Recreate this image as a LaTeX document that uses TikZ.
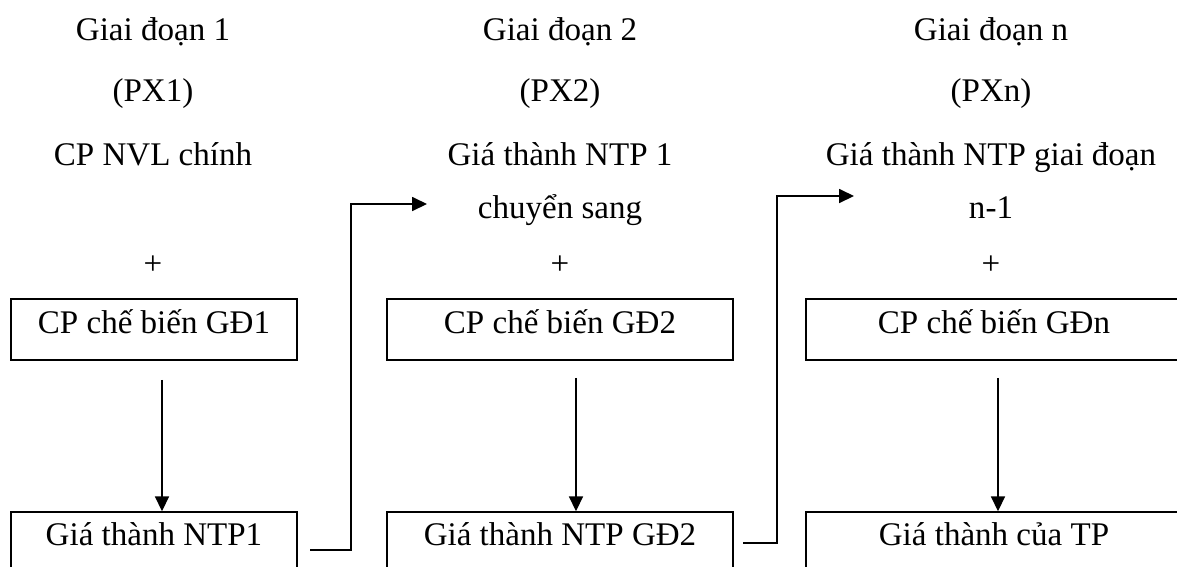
\documentclass[tikz,border=0pt]{standalone}
\usepackage{fontspec}
\setmainfont{Liberation Serif}
\usetikzlibrary{arrows.meta}
\begin{document}
\begin{tikzpicture}[x=0.02cm,y=-0.02cm,line width=0.8pt,
  every node/.style={font=\fontsize{18.8}{22}\selectfont,inner sep=0pt,anchor=base},
  box/.style={draw,text height=19.3pt,text depth=15.4pt},
  openbox/.style={draw,text height=18.8pt,text depth=40pt},
  arr/.style={-{Triangle[length=8.5pt,width=8pt]}}]
\clip (0,0) rectangle (1177,566);
% column 1
\node (gd1) at (153,40) {Giai đoạn 1};
\node (px1) at (153,101) {(PX1)};
\node (nvl) at (153,165) {CP NVL chính};
\node (plus1) at (153,274) {+};
\node[box,minimum width=5.72cm] (cb1) at (154,333) {CP chế biến GĐ1};
\node[openbox,minimum width=5.72cm] (ntp1) at (154,545) {Giá thành NTP1};
% column 2
\node (gd2) at (560,40) {Giai đoạn 2};
\node (px2) at (560,101) {(PX2)};
\node (gt2) at (560,165) {Giá thành NTP 1};
\node (cs2) at (560,218) {chuyển sang};
\node (plus2) at (560,274) {+};
\node[box,minimum width=6.92cm] (cb2) at (560,333) {CP chế biến GĐ2};
\node[openbox,minimum width=6.92cm] (ntp2) at (560,545) {Giá thành NTP GĐ2};
% column n
\node (gdn) at (991,40) {Giai đoạn n};
\node (pxn) at (991,101) {(PXn)};
\node (gtn) at (991,165) {Giá thành NTP giai đoạn};
\node (n1) at (991,218) {n-1};
\node (plusn) at (991,274) {+};
\node[box,minimum width=7.52cm] (cbn) at (994,333) {CP chế biến GĐn};
\node[openbox,minimum width=7.52cm] (tp) at (994,545) {Giá thành của TP};
% arrows
\draw[arr] ([shift={(8,19)}]cb1.south) -- ([shift={(8,0)}]ntp1.north);
\draw[arr] ([shift={(16,17)}]cb2.south) -- ([shift={(16,0)}]ntp2.north);
\draw[arr] ([shift={(4,17)}]cbn.south) -- ([shift={(4,0)}]tp.north);
\coordinate (out1) at (310,550);
\coordinate (in2) at (427,204);
\coordinate (out2) at (743,543);
\coordinate (inn) at (854,196);
\draw[arr] (out1) -| (351,204) -- (in2);
\draw[arr] (out2) -| (777,196) -- (inn);
\end{tikzpicture}
\end{document}
